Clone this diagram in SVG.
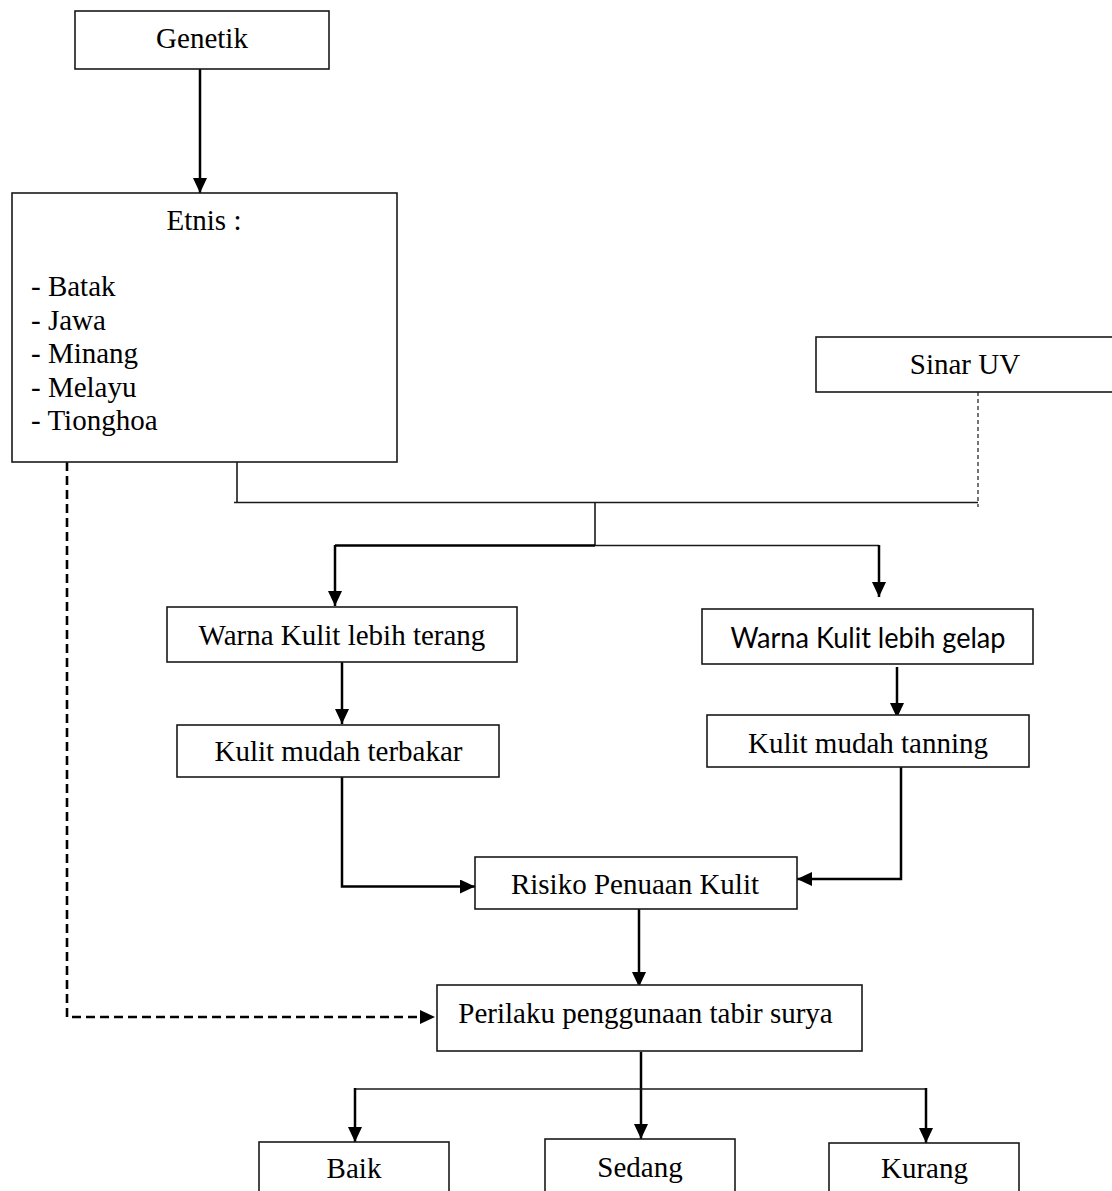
<svg xmlns="http://www.w3.org/2000/svg" width="1112" height="1191" viewBox="0 0 1112 1191">
<style>
.box{fill:#fff;stroke:#1a1a1a;stroke-width:1.6}
.t{font-family:"Liberation Serif","Times New Roman",serif;font-size:29px;fill:#000;text-anchor:middle}
.tl{font-family:"Liberation Serif","Times New Roman",serif;font-size:29px;fill:#000}
.c{font-family:Lato,"Open Sans","Liberation Sans",sans-serif;font-size:29px;fill:#000;text-anchor:middle}
.ln{fill:none;stroke:#000;stroke-width:2.5}
.thin{fill:none;stroke:#1a1a1a;stroke-width:1.6}
.dash{fill:none;stroke:#000;stroke-width:2.6;stroke-dasharray:9 5}
.dot{fill:none;stroke:#1a1a1a;stroke-width:1.2;stroke-dasharray:4 3}
</style>
<defs>
<marker id="ah" markerUnits="userSpaceOnUse" markerWidth="16" markerHeight="16" refX="15" refY="7" orient="auto">
<path d="M0,0 L15,7 L0,14 Z" fill="#000"/>
</marker>
</defs>
<rect width="1112" height="1191" fill="#fff"/>
<g id="connectors">
<path class="ln" d="M200,69 V193" marker-end="url(#ah)"/>
<path class="thin" d="M237,462 V503"/>
<path class="thin" d="M234,502.5 H978"/>
<path class="dot" d="M978,392 V507"/>
<path class="thin" d="M595,502 V546"/>
<path class="ln" d="M335,545.5 H595"/>
<path class="thin" d="M595,545.5 H879"/>
<path class="ln" d="M335,545 V606" marker-end="url(#ah)"/>
<path class="ln" d="M879,545 V597" marker-end="url(#ah)"/>
<path class="ln" d="M342,662 V724" marker-end="url(#ah)"/>
<path class="ln" d="M897,667 V718" marker-end="url(#ah)"/>
<path class="ln" d="M342,777 V886.5 H475" marker-end="url(#ah)"/>
<path class="ln" d="M901,767 V879 H797" marker-end="url(#ah)"/>
<path class="ln" d="M639,909 V987" marker-end="url(#ah)"/>
<path class="dash" d="M67,462 V1017 H435" marker-end="url(#ah)"/>
<path class="ln" d="M641,1052 V1139" marker-end="url(#ah)"/>
<path class="thin" d="M355,1089 H926"/>
<path class="ln" d="M355,1088 V1142" marker-end="url(#ah)"/>
<path class="ln" d="M926,1088 V1143" marker-end="url(#ah)"/>
</g>
<g id="genetik">
<rect class="box" x="75" y="11" width="254" height="58"/>
<text class="t" x="202" y="48">Genetik</text>
</g>
<g id="etnis">
<rect class="box" x="12" y="193" width="385" height="269"/>
<text class="t" x="204" y="230">Etnis :</text>
<text class="tl" x="31" y="296">- Batak</text>
<text class="tl" x="31" y="329.5">- Jawa</text>
<text class="tl" x="31" y="363">- Minang</text>
<text class="tl" x="31" y="396.5">- Melayu</text>
<text class="tl" x="31" y="430">- Tionghoa</text>
</g>
<g id="sinar-uv">
<rect class="box" x="816" y="337" width="310" height="55"/>
<text class="t" x="965" y="374">Sinar UV</text>
</g>
<g id="warna-terang">
<rect class="box" x="167" y="607" width="350" height="55"/>
<text class="t" x="342" y="645">Warna Kulit lebih terang</text>
</g>
<g id="warna-gelap">
<rect class="box" x="702" y="609" width="331" height="55"/>
<text class="c" x="868" y="648" textLength="275" lengthAdjust="spacingAndGlyphs">Warna Kulit lebih gelap</text>
</g>
<g id="kulit-terbakar">
<rect class="box" x="177" y="725" width="322" height="52"/>
<text class="t" x="338.5" y="761">Kulit mudah terbakar</text>
</g>
<g id="kulit-tanning">
<rect class="box" x="707" y="715" width="322" height="52"/>
<text class="t" x="868" y="753">Kulit mudah tanning</text>
</g>
<g id="risiko">
<rect class="box" x="475" y="857" width="322" height="52"/>
<text class="t" x="635" y="894">Risiko Penuaan Kulit</text>
</g>
<g id="perilaku">
<rect class="box" x="437" y="985" width="425" height="66"/>
<text class="t" x="645.5" y="1023">Perilaku penggunaan tabir surya</text>
</g>
<g id="baik">
<rect class="box" x="259" y="1142" width="190" height="70"/>
<text class="t" x="354" y="1178">Baik</text>
</g>
<g id="sedang">
<rect class="box" x="545" y="1139" width="190" height="70"/>
<text class="t" x="640" y="1177">Sedang</text>
</g>
<g id="kurang">
<rect class="box" x="829" y="1143" width="190" height="70"/>
<text class="t" x="924.5" y="1178">Kurang</text>
</g>
</svg>
